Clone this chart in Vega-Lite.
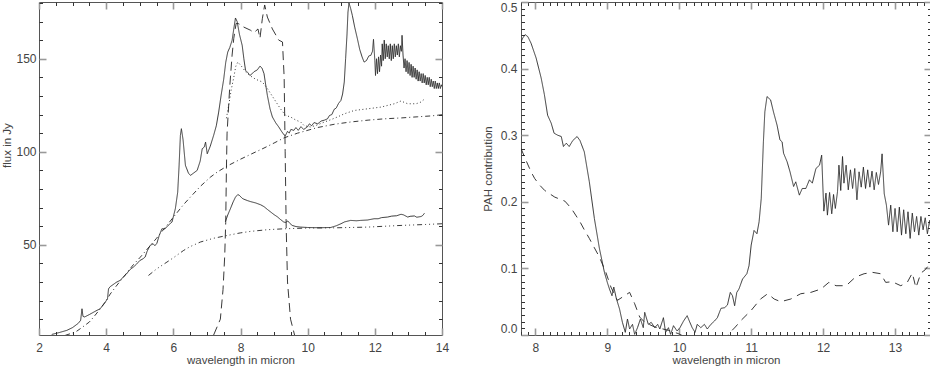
{
  "$schema": "https://vega.github.io/schema/vega-lite/v6.json",
  "padding": {"left": 1, "top": 0, "right": 0, "bottom": 0},
  "config": {
    "view": {"stroke": "#555", "strokeWidth": 1},
    "axis": {
      "labelFont": "Liberation Sans, Arial, sans-serif",
      "labelFontSize": 12,
      "labelColor": "#444",
      "titleFont": "Liberation Sans, Arial, sans-serif",
      "titleFontSize": 11.5,
      "titleFontWeight": "normal",
      "titleColor": "#444",
      "grid": false,
      "domain": false,
      "labelOverlap": false,
      "tickCount": 200
    }
  },
  "resolve": {"scale": {"strokeDash": "independent"}},
  "datasets": {
    "left": [
      {"s":"obs","x":2.38,"y":1.8},{"s":"obs","x":2.6,"y":2.8},{"s":"obs","x":2.83,"y":4.0},{"s":"obs","x":3.0,"y":5.5},{"s":"obs","x":3.17,"y":7.8},{"s":"obs","x":3.24,"y":9.4},{"s":"obs","x":3.28,"y":15.6},{"s":"obs","x":3.31,"y":11.5},{"s":"obs","x":3.36,"y":11.2},{"s":"obs","x":3.5,"y":12.5},{"s":"obs","x":3.7,"y":14.5},{"s":"obs","x":3.82,"y":15.6},{"s":"obs","x":3.95,"y":18.5},{"s":"obs","x":4.04,"y":21},{"s":"obs","x":4.07,"y":26.3},{"s":"obs","x":4.12,"y":27.5},{"s":"obs","x":4.2,"y":28.5},{"s":"obs","x":4.3,"y":29.8},{"s":"obs","x":4.42,"y":30.9},{"s":"obs","x":4.5,"y":32.5},{"s":"obs","x":4.6,"y":34.2},{"s":"obs","x":4.7,"y":36.5},{"s":"obs","x":4.81,"y":38},{"s":"obs","x":4.9,"y":39.5},{"s":"obs","x":5.0,"y":41.5},{"s":"obs","x":5.1,"y":42.5},{"s":"obs","x":5.16,"y":43.4},{"s":"obs","x":5.22,"y":46.5},{"s":"obs","x":5.31,"y":49.7},{"s":"obs","x":5.4,"y":50.5},{"s":"obs","x":5.45,"y":49.5},{"s":"obs","x":5.51,"y":50.8},{"s":"obs","x":5.58,"y":55},{"s":"obs","x":5.66,"y":58.6},{"s":"obs","x":5.75,"y":58.5},{"s":"obs","x":5.85,"y":60.5},{"s":"obs","x":5.96,"y":62.2},{"s":"obs","x":6.06,"y":69.4},{"s":"obs","x":6.13,"y":78.3},{"s":"obs","x":6.17,"y":92},{"s":"obs","x":6.21,"y":108.8},{"s":"obs","x":6.24,"y":112.4},{"s":"obs","x":6.29,"y":106.4},{"s":"obs","x":6.36,"y":92.7},{"s":"obs","x":6.45,"y":88.5},{"s":"obs","x":6.51,"y":87.3},{"s":"obs","x":6.6,"y":88.5},{"s":"obs","x":6.71,"y":90},{"s":"obs","x":6.8,"y":95},{"s":"obs","x":6.86,"y":101.6},{"s":"obs","x":6.92,"y":102.5},{"s":"obs","x":6.96,"y":105.2},{"s":"obs","x":7.01,"y":98.9},{"s":"obs","x":7.1,"y":103},{"s":"obs","x":7.2,"y":108.8},{"s":"obs","x":7.28,"y":114},{"s":"obs","x":7.35,"y":121.3},{"s":"obs","x":7.42,"y":130},{"s":"obs","x":7.5,"y":139},{"s":"obs","x":7.56,"y":148},{"s":"obs","x":7.62,"y":153.6},{"s":"obs","x":7.68,"y":156},{"s":"obs","x":7.75,"y":159.9},{"s":"obs","x":7.8,"y":166},{"s":"obs","x":7.85,"y":171.9},{"s":"obs","x":7.9,"y":170},{"s":"obs","x":7.97,"y":163},{"s":"obs","x":8.05,"y":157.2},{"s":"obs","x":8.1,"y":150},{"s":"obs","x":8.15,"y":143.8},{"s":"obs","x":8.22,"y":142.5},{"s":"obs","x":8.28,"y":141},{"s":"obs","x":8.35,"y":142},{"s":"obs","x":8.4,"y":143},{"s":"obs","x":8.5,"y":144},{"s":"obs","x":8.58,"y":146},{"s":"obs","x":8.64,"y":145},{"s":"obs","x":8.7,"y":142},{"s":"obs","x":8.75,"y":136},{"s":"obs","x":8.8,"y":130.3},{"s":"obs","x":8.88,"y":123},{"s":"obs","x":8.95,"y":118.7},{"s":"obs","x":9.05,"y":115.5},{"s":"obs","x":9.14,"y":113.3},{"s":"obs","x":9.22,"y":111},{"s":"obs","x":9.3,"y":109},{"s":"obs","x":9.34,"y":108.8},{"s":"obs","x":9.4,"y":111},{"s":"obs","x":9.45,"y":110},{"s":"obs","x":9.5,"y":112},{"s":"obs","x":9.59,"y":111.5},{"s":"obs","x":9.65,"y":113},{"s":"obs","x":9.72,"y":111.5},{"s":"obs","x":9.8,"y":113.5},{"s":"obs","x":9.88,"y":112},{"s":"obs","x":9.99,"y":113.3},{"s":"obs","x":10.05,"y":115},{"s":"obs","x":10.12,"y":114},{"s":"obs","x":10.19,"y":115.7},{"s":"obs","x":10.3,"y":115},{"s":"obs","x":10.4,"y":116.5},{"s":"obs","x":10.5,"y":117},{"s":"obs","x":10.59,"y":117.7},{"s":"obs","x":10.65,"y":119.5},{"s":"obs","x":10.72,"y":120},{"s":"obs","x":10.79,"y":122.8},{"s":"obs","x":10.85,"y":123.5},{"s":"obs","x":10.92,"y":126},{"s":"obs","x":10.99,"y":127.6},{"s":"obs","x":11.04,"y":131},{"s":"obs","x":11.09,"y":137.5},{"s":"obs","x":11.13,"y":150},{"s":"obs","x":11.17,"y":162.6},{"s":"obs","x":11.2,"y":175},{"s":"obs","x":11.23,"y":180},{"s":"obs","x":11.28,"y":177},{"s":"obs","x":11.33,"y":173.3},{"s":"obs","x":11.4,"y":167},{"s":"obs","x":11.48,"y":160.8},{"s":"obs","x":11.55,"y":155},{"s":"obs","x":11.62,"y":151},{"s":"obs","x":11.68,"y":148.2},{"s":"obs","x":11.75,"y":149},{"s":"obs","x":11.82,"y":151.5},{"s":"obs","x":11.88,"y":151.8},{"s":"obs","x":11.93,"y":154},{"s":"obs","x":11.96,"y":160.4},
      {"s":"obs","x":12.0,"y":149},{"s":"obs","x":12.02,"y":141},{"s":"obs","x":12.05,"y":150},{"s":"obs","x":12.08,"y":142},{"s":"obs","x":12.11,"y":151},{"s":"obs","x":12.14,"y":143},{"s":"obs","x":12.17,"y":152},{"s":"obs","x":12.2,"y":146},{"s":"obs","x":12.22,"y":158},{"s":"obs","x":12.25,"y":149},{"s":"obs","x":12.28,"y":160},{"s":"obs","x":12.31,"y":150},{"s":"obs","x":12.34,"y":158},{"s":"obs","x":12.37,"y":151},{"s":"obs","x":12.4,"y":157},{"s":"obs","x":12.43,"y":150},{"s":"obs","x":12.46,"y":158},{"s":"obs","x":12.49,"y":149},{"s":"obs","x":12.52,"y":157},{"s":"obs","x":12.55,"y":150},{"s":"obs","x":12.58,"y":158},{"s":"obs","x":12.61,"y":151},{"s":"obs","x":12.64,"y":157},{"s":"obs","x":12.67,"y":152},{"s":"obs","x":12.7,"y":158},{"s":"obs","x":12.73,"y":151},{"s":"obs","x":12.76,"y":157},{"s":"obs","x":12.79,"y":154},{"s":"obs","x":12.81,"y":162.6},{"s":"obs","x":12.84,"y":152},{"s":"obs","x":12.87,"y":145},{"s":"obs","x":12.9,"y":150},{"s":"obs","x":12.93,"y":143},{"s":"obs","x":12.96,"y":149},{"s":"obs","x":12.99,"y":142},{"s":"obs","x":13.02,"y":148},{"s":"obs","x":13.05,"y":141},{"s":"obs","x":13.08,"y":147},{"s":"obs","x":13.11,"y":140},{"s":"obs","x":13.14,"y":146},{"s":"obs","x":13.17,"y":140},{"s":"obs","x":13.2,"y":145},{"s":"obs","x":13.23,"y":139},{"s":"obs","x":13.26,"y":144},{"s":"obs","x":13.29,"y":138},{"s":"obs","x":13.32,"y":143},{"s":"obs","x":13.35,"y":138},{"s":"obs","x":13.38,"y":142},{"s":"obs","x":13.41,"y":137},{"s":"obs","x":13.44,"y":142},{"s":"obs","x":13.47,"y":137},{"s":"obs","x":13.5,"y":141},{"s":"obs","x":13.53,"y":136},{"s":"obs","x":13.56,"y":140},{"s":"obs","x":13.59,"y":136},{"s":"obs","x":13.62,"y":140},{"s":"obs","x":13.65,"y":135},{"s":"obs","x":13.68,"y":139},{"s":"obs","x":13.71,"y":135},{"s":"obs","x":13.74,"y":138},{"s":"obs","x":13.77,"y":134},{"s":"obs","x":13.8,"y":138},{"s":"obs","x":13.83,"y":134},{"s":"obs","x":13.86,"y":137},{"s":"obs","x":13.89,"y":134},{"s":"obs","x":13.92,"y":137},{"s":"obs","x":13.95,"y":134},{"s":"obs","x":13.98,"y":136},{"s":"obs","x":14.0,"y":135},
      {"s":"low","x":7.55,"y":62.4},{"s":"low","x":7.62,"y":66},{"s":"low","x":7.7,"y":69.4},{"s":"low","x":7.78,"y":73},{"s":"low","x":7.85,"y":75.6},{"s":"low","x":7.92,"y":77},{"s":"low","x":7.97,"y":76.5},{"s":"low","x":8.05,"y":75},{"s":"low","x":8.1,"y":74.5},{"s":"low","x":8.2,"y":73.8},{"s":"low","x":8.3,"y":73.2},{"s":"low","x":8.45,"y":72.5},{"s":"low","x":8.6,"y":71.5},{"s":"low","x":8.7,"y":70.5},{"s":"low","x":8.8,"y":69},{"s":"low","x":8.9,"y":67.6},{"s":"low","x":9.0,"y":66.2},{"s":"low","x":9.1,"y":65},{"s":"low","x":9.19,"y":63.6},{"s":"low","x":9.29,"y":62.2},{"s":"low","x":9.34,"y":62},{"s":"low","x":9.41,"y":62.8},{"s":"low","x":9.47,"y":61.5},{"s":"low","x":9.54,"y":60.4},{"s":"low","x":9.65,"y":59.8},{"s":"low","x":9.79,"y":59.5},{"s":"low","x":9.99,"y":59.3},{"s":"low","x":10.19,"y":59.2},{"s":"low","x":10.45,"y":59.2},{"s":"low","x":10.69,"y":59.3},{"s":"low","x":10.85,"y":60.2},{"s":"low","x":10.99,"y":61.3},{"s":"low","x":11.1,"y":62.3},{"s":"low","x":11.28,"y":63.1},{"s":"low","x":11.45,"y":62.9},{"s":"low","x":11.58,"y":63.1},{"s":"low","x":11.78,"y":63.3},{"s":"low","x":11.98,"y":64},{"s":"low","x":12.1,"y":64},{"s":"low","x":12.2,"y":64.6},{"s":"low","x":12.38,"y":64.9},{"s":"low","x":12.5,"y":65.4},{"s":"low","x":12.65,"y":65.6},{"s":"low","x":12.78,"y":66.4},{"s":"low","x":12.85,"y":66.1},{"s":"low","x":12.98,"y":64.9},{"s":"low","x":13.05,"y":65.3},{"s":"low","x":13.18,"y":65.5},{"s":"low","x":13.25,"y":64.8},{"s":"low","x":13.38,"y":65.2},{"s":"low","x":13.43,"y":65.8},{"s":"low","x":13.48,"y":67},
      {"s":"dot","x":7.58,"y":118},{"s":"dot","x":7.65,"y":125},{"s":"dot","x":7.72,"y":133},{"s":"dot","x":7.8,"y":140},{"s":"dot","x":7.86,"y":146},{"s":"dot","x":7.92,"y":148.2},{"s":"dot","x":7.98,"y":147},{"s":"dot","x":8.05,"y":145.5},{"s":"dot","x":8.15,"y":143},{"s":"dot","x":8.3,"y":140.7},{"s":"dot","x":8.45,"y":139},{"s":"dot","x":8.65,"y":137.5},{"s":"dot","x":8.78,"y":134.5},{"s":"dot","x":8.9,"y":131.2},{"s":"dot","x":9.05,"y":127},{"s":"dot","x":9.19,"y":123.1},{"s":"dot","x":9.3,"y":120.5},{"s":"dot","x":9.35,"y":119.5},{"s":"dot","x":9.49,"y":118.7},{"s":"dot","x":9.65,"y":117},{"s":"dot","x":9.79,"y":116},{"s":"dot","x":9.9,"y":114},{"s":"dot","x":10.09,"y":113.3},{"s":"dot","x":10.3,"y":114.5},{"s":"dot","x":10.5,"y":116},{"s":"dot","x":10.7,"y":117.3},{"s":"dot","x":10.9,"y":118.8},{"s":"dot","x":11.09,"y":120.4},{"s":"dot","x":11.39,"y":122.2},{"s":"dot","x":11.79,"y":123.1},{"s":"dot","x":12.18,"y":124},{"s":"dot","x":12.58,"y":125.8},{"s":"dot","x":12.78,"y":127.3},{"s":"dot","x":12.88,"y":126.5},{"s":"dot","x":12.98,"y":125.8},{"s":"dot","x":13.23,"y":125.8},{"s":"dot","x":13.37,"y":126.7},{"s":"dot","x":13.49,"y":128.5},
      {"s":"filt","x":7.2,"y":1.5},{"s":"filt","x":7.4,"y":10},{"s":"filt","x":7.48,"y":26},{"s":"filt","x":7.53,"y":44},{"s":"filt","x":7.56,"y":62},{"s":"filt","x":7.58,"y":90},{"s":"filt","x":7.6,"y":110},{"s":"filt","x":7.68,"y":135},{"s":"filt","x":7.75,"y":152},{"s":"filt","x":7.8,"y":161},{"s":"filt","x":7.87,"y":169},{"s":"filt","x":7.95,"y":168.8},{"s":"filt","x":8.1,"y":167},{"s":"filt","x":8.3,"y":165.3},{"s":"filt","x":8.4,"y":164},{"s":"filt","x":8.52,"y":166},{"s":"filt","x":8.58,"y":161},{"s":"filt","x":8.65,"y":171.5},{"s":"filt","x":8.72,"y":178.9},{"s":"filt","x":8.8,"y":172.4},{"s":"filt","x":8.95,"y":166},{"s":"filt","x":9.14,"y":160},{"s":"filt","x":9.25,"y":159},{"s":"filt","x":9.3,"y":140},{"s":"filt","x":9.33,"y":100},{"s":"filt","x":9.36,"y":60},{"s":"filt","x":9.4,"y":30},{"s":"filt","x":9.49,"y":10},{"s":"filt","x":9.61,"y":1.5},
      {"s":"c1","x":2.78,"y":1.3},{"s":"c1","x":3.0,"y":2.6},{"s":"c1","x":3.12,"y":3.5},{"s":"c1","x":3.3,"y":5.8},{"s":"c1","x":3.5,"y":8.5},{"s":"c1","x":3.62,"y":11},{"s":"c1","x":3.8,"y":15},{"s":"c1","x":4.02,"y":20.5},{"s":"c1","x":4.12,"y":23.5},{"s":"c1","x":4.3,"y":27.8},{"s":"c1","x":4.5,"y":32.3},{"s":"c1","x":4.62,"y":35},{"s":"c1","x":4.81,"y":39.3},{"s":"c1","x":5.0,"y":43},{"s":"c1","x":5.12,"y":45.5},{"s":"c1","x":5.31,"y":49.5},{"s":"c1","x":5.5,"y":53.5},{"s":"c1","x":5.61,"y":56},{"s":"c1","x":5.81,"y":60.5},{"s":"c1","x":6.0,"y":64.8},{"s":"c1","x":6.3,"y":71.5},{"s":"c1","x":6.5,"y":75.5},{"s":"c1","x":6.81,"y":81.5},{"s":"c1","x":7.1,"y":86.3},{"s":"c1","x":7.3,"y":89},{"s":"c1","x":7.6,"y":92.3},{"s":"c1","x":8.0,"y":96},{"s":"c1","x":8.3,"y":98.6},{"s":"c1","x":8.7,"y":102},{"s":"c1","x":9.0,"y":104.7},{"s":"c1","x":9.3,"y":107.5},{"s":"c1","x":9.7,"y":110},{"s":"c1","x":10.29,"y":113},{"s":"c1","x":10.8,"y":114.8},{"s":"c1","x":11.28,"y":116},{"s":"c1","x":11.8,"y":117},{"s":"c1","x":12.28,"y":117.7},{"s":"c1","x":12.8,"y":118.2},{"s":"c1","x":13.28,"y":118.8},{"s":"c1","x":13.7,"y":119.3},{"s":"c1","x":14.0,"y":119.9},
      {"s":"c2","x":5.26,"y":33.5},{"s":"c2","x":5.5,"y":37},{"s":"c2","x":5.81,"y":40.7},{"s":"c2","x":6.0,"y":43},{"s":"c2","x":6.31,"y":47},{"s":"c2","x":6.5,"y":49},{"s":"c2","x":6.81,"y":51.5},{"s":"c2","x":7.2,"y":53.5},{"s":"c2","x":7.6,"y":55},{"s":"c2","x":8.0,"y":56.4},{"s":"c2","x":8.3,"y":57.2},{"s":"c2","x":8.8,"y":58.1},{"s":"c2","x":9.3,"y":58.6},{"s":"c2","x":10.0,"y":59},{"s":"c2","x":10.79,"y":59.1},{"s":"c2","x":11.78,"y":59.5},{"s":"c2","x":12.78,"y":60.4},{"s":"c2","x":13.5,"y":60.9},{"s":"c2","x":14.0,"y":61.3}
    ],
    "right": [
      {"s":"pah","x":7.8,"y":0.44},{"s":"pah","x":7.825,"y":0.446},{"s":"pah","x":7.857,"y":0.451},{"s":"pah","x":7.895,"y":0.448},{"s":"pah","x":7.94,"y":0.438},{"s":"pah","x":8.01,"y":0.416},{"s":"pah","x":8.08,"y":0.386},{"s":"pah","x":8.125,"y":0.361},{"s":"pah","x":8.17,"y":0.33},{"s":"pah","x":8.22,"y":0.318},{"s":"pah","x":8.26,"y":0.303},{"s":"pah","x":8.31,"y":0.3},{"s":"pah","x":8.36,"y":0.298},{"s":"pah","x":8.39,"y":0.283},{"s":"pah","x":8.43,"y":0.288},{"s":"pah","x":8.47,"y":0.283},{"s":"pah","x":8.52,"y":0.292},{"s":"pah","x":8.58,"y":0.298},{"s":"pah","x":8.62,"y":0.292},{"s":"pah","x":8.68,"y":0.275},{"s":"pah","x":8.75,"y":0.23},{"s":"pah","x":8.82,"y":0.175},{"s":"pah","x":8.89,"y":0.13},{"s":"pah","x":8.96,"y":0.094},{"s":"pah","x":9.0,"y":0.079},{"s":"pah","x":9.03,"y":0.069},{"s":"pah","x":9.065,"y":0.059},{"s":"pah","x":9.09,"y":0.072},{"s":"pah","x":9.125,"y":0.055},{"s":"pah","x":9.17,"y":0.039},{"s":"pah","x":9.21,"y":0.019},{"s":"pah","x":9.25,"y":0.004},{"s":"pah","x":9.28,"y":0.024},{"s":"pah","x":9.31,"y":0.009},{"s":"pah","x":9.35,"y":0.016},{"s":"pah","x":9.38,"y":0.001},{"s":"pah","x":9.42,"y":0.011},{"s":"pah","x":9.46,"y":0.024},{"s":"pah","x":9.5,"y":0.011},{"s":"pah","x":9.52,"y":0.034},{"s":"pah","x":9.57,"y":0.016},{"s":"pah","x":9.61,"y":0.019},{"s":"pah","x":9.66,"y":0.011},{"s":"pah","x":9.7,"y":0.016},{"s":"pah","x":9.73,"y":0.009},{"s":"pah","x":9.78,"y":0.026},{"s":"pah","x":9.81,"y":0.004},{"s":"pah","x":9.85,"y":0.011},{"s":"pah","x":9.88,"y":0.001},{"s":"pah","x":9.92,"y":0.014},{"s":"pah","x":9.97,"y":0.006},{"s":"pah","x":10.01,"y":0.011},{"s":"pah","x":10.06,"y":0.021},{"s":"pah","x":10.11,"y":0.029},{"s":"pah","x":10.14,"y":0.021},{"s":"pah","x":10.18,"y":0.011},{"s":"pah","x":10.22,"y":0.004},{"s":"pah","x":10.25,"y":0.016},{"s":"pah","x":10.3,"y":0.011},{"s":"pah","x":10.35,"y":0.016},{"s":"pah","x":10.39,"y":0.009},{"s":"pah","x":10.44,"y":0.016},{"s":"pah","x":10.49,"y":0.021},{"s":"pah","x":10.53,"y":0.026},{"s":"pah","x":10.58,"y":0.04},{"s":"pah","x":10.63,"y":0.041},{"s":"pah","x":10.67,"y":0.045},{"s":"pah","x":10.71,"y":0.064},{"s":"pah","x":10.74,"y":0.059},{"s":"pah","x":10.77,"y":0.044},{"s":"pah","x":10.8,"y":0.064},{"s":"pah","x":10.83,"y":0.069},{"s":"pah","x":10.88,"y":0.084},{"s":"pah","x":10.94,"y":0.092},{"s":"pah","x":10.97,"y":0.104},{"s":"pah","x":11.0,"y":0.135},{"s":"pah","x":11.04,"y":0.157},{"s":"pah","x":11.08,"y":0.152},{"s":"pah","x":11.11,"y":0.17},{"s":"pah","x":11.14,"y":0.205},{"s":"pah","x":11.17,"y":0.29},{"s":"pah","x":11.19,"y":0.335},{"s":"pah","x":11.22,"y":0.358},{"s":"pah","x":11.27,"y":0.353},{"s":"pah","x":11.31,"y":0.335},{"s":"pah","x":11.36,"y":0.315},{"s":"pah","x":11.4,"y":0.293},{"s":"pah","x":11.43,"y":0.29},{"s":"pah","x":11.45,"y":0.273},{"s":"pah","x":11.5,"y":0.26},{"s":"pah","x":11.54,"y":0.245},{"s":"pah","x":11.59,"y":0.223},{"s":"pah","x":11.62,"y":0.23},{"s":"pah","x":11.67,"y":0.21},{"s":"pah","x":11.71,"y":0.22},{"s":"pah","x":11.76,"y":0.22},{"s":"pah","x":11.81,"y":0.233},{"s":"pah","x":11.85,"y":0.228},{"s":"pah","x":11.9,"y":0.25},{"s":"pah","x":11.95,"y":0.255},{"s":"pah","x":11.98,"y":0.27},
      {"s":"pah","x":12.01,"y":0.186},{"s":"pah","x":12.04,"y":0.213},{"s":"pah","x":12.06,"y":0.18},{"s":"pah","x":12.09,"y":0.214},{"s":"pah","x":12.12,"y":0.182},{"s":"pah","x":12.145,"y":0.211},{"s":"pah","x":12.17,"y":0.19},{"s":"pah","x":12.2,"y":0.215},{"s":"pah","x":12.22,"y":0.255},{"s":"pah","x":12.245,"y":0.217},{"s":"pah","x":12.27,"y":0.268},{"s":"pah","x":12.29,"y":0.228},{"s":"pah","x":12.32,"y":0.255},{"s":"pah","x":12.35,"y":0.218},{"s":"pah","x":12.38,"y":0.248},{"s":"pah","x":12.41,"y":0.22},{"s":"pah","x":12.44,"y":0.25},{"s":"pah","x":12.47,"y":0.203},{"s":"pah","x":12.5,"y":0.245},{"s":"pah","x":12.53,"y":0.222},{"s":"pah","x":12.56,"y":0.252},{"s":"pah","x":12.59,"y":0.22},{"s":"pah","x":12.62,"y":0.248},{"s":"pah","x":12.65,"y":0.222},{"s":"pah","x":12.68,"y":0.246},{"s":"pah","x":12.71,"y":0.218},{"s":"pah","x":12.74,"y":0.244},{"s":"pah","x":12.77,"y":0.226},{"s":"pah","x":12.8,"y":0.245},{"s":"pah","x":12.82,"y":0.272},{"s":"pah","x":12.85,"y":0.212},{"s":"pah","x":12.88,"y":0.195},{"s":"pah","x":12.91,"y":0.165},{"s":"pah","x":12.94,"y":0.195},{"s":"pah","x":12.97,"y":0.155},{"s":"pah","x":13.0,"y":0.19},{"s":"pah","x":13.03,"y":0.155},{"s":"pah","x":13.06,"y":0.192},{"s":"pah","x":13.09,"y":0.15},{"s":"pah","x":13.12,"y":0.188},{"s":"pah","x":13.15,"y":0.152},{"s":"pah","x":13.18,"y":0.185},{"s":"pah","x":13.21,"y":0.145},{"s":"pah","x":13.24,"y":0.183},{"s":"pah","x":13.27,"y":0.155},{"s":"pah","x":13.3,"y":0.178},{"s":"pah","x":13.33,"y":0.15},{"s":"pah","x":13.36,"y":0.178},{"s":"pah","x":13.39,"y":0.158},{"s":"pah","x":13.42,"y":0.176},{"s":"pah","x":13.45,"y":0.152},{"s":"pah","x":13.48,"y":0.172},{"s":"pah","x":13.5,"y":0.158},
      {"s":"dash","x":7.8,"y":0.28},{"s":"dash","x":7.87,"y":0.262},{"s":"dash","x":7.94,"y":0.245},{"s":"dash","x":7.99,"y":0.235},{"s":"dash","x":8.06,"y":0.225},{"s":"dash","x":8.13,"y":0.217},{"s":"dash","x":8.2,"y":0.212},{"s":"dash","x":8.27,"y":0.207},{"s":"dash","x":8.34,"y":0.204},{"s":"dash","x":8.41,"y":0.201},{"s":"dash","x":8.5,"y":0.19},{"s":"dash","x":8.56,"y":0.18},{"s":"dash","x":8.62,"y":0.17},{"s":"dash","x":8.68,"y":0.158},{"s":"dash","x":8.75,"y":0.145},{"s":"dash","x":8.82,"y":0.131},{"s":"dash","x":8.89,"y":0.117},{"s":"dash","x":8.98,"y":0.094},{"s":"dash","x":9.05,"y":0.072},{"s":"dash","x":9.14,"y":0.052},{"s":"dash","x":9.24,"y":0.059},{"s":"dash","x":9.31,"y":0.064},{"s":"dash","x":9.38,"y":0.047},{"s":"dash","x":9.45,"y":0.027},{"s":"dash","x":9.52,"y":0.019},{"s":"dash","x":9.66,"y":0.012},{"s":"dash","x":9.85,"y":0.007},{"s":"dash","x":9.99,"y":0.002},{"s":"dash","x":10.08,"y":-0.003},{"s":"dash","x":10.3,"y":-0.02},{"s":"dash","x":10.55,"y":-0.02},{"s":"dash","x":10.69,"y":0.002},{"s":"dash","x":10.78,"y":0.012},{"s":"dash","x":10.86,"y":0.022},{"s":"dash","x":11.0,"y":0.037},{"s":"dash","x":11.13,"y":0.054},{"s":"dash","x":11.23,"y":0.062},{"s":"dash","x":11.32,"y":0.054},{"s":"dash","x":11.41,"y":0.05},{"s":"dash","x":11.55,"y":0.054},{"s":"dash","x":11.69,"y":0.062},{"s":"dash","x":11.83,"y":0.064},{"s":"dash","x":11.97,"y":0.069},{"s":"dash","x":12.08,"y":0.079},{"s":"dash","x":12.18,"y":0.074},{"s":"dash","x":12.32,"y":0.074},{"s":"dash","x":12.45,"y":0.087},{"s":"dash","x":12.57,"y":0.092},{"s":"dash","x":12.69,"y":0.094},{"s":"dash","x":12.8,"y":0.092},{"s":"dash","x":12.87,"y":0.079},{"s":"dash","x":12.96,"y":0.08},{"s":"dash","x":13.08,"y":0.074},{"s":"dash","x":13.17,"y":0.079},{"s":"dash","x":13.24,"y":0.093},{"s":"dash","x":13.29,"y":0.071},{"s":"dash","x":13.36,"y":0.093},{"s":"dash","x":13.42,"y":0.098},{"s":"dash","x":13.47,"y":0.105},{"s":"dash","x":13.5,"y":0.11}
    ]
  },
  "spacing": 31,
  "hconcat": [
    {
      "width": 403,
      "height": 333,
      "data": {"name": "left"},
      "resolve": {"axis": {"x": "independent", "y": "independent"}},
      "layer": [
        {
          "mark": {"type": "line", "clip": true, "strokeWidth": 0.9, "color": "#222"},
          "encoding": {
            "x": {"field": "x", "type": "quantitative",
              "scale": {"domain": [2, 14], "nice": false, "zero": false},
              "axis": {"orient": "bottom", "title": "wavelength in micron", "values": [2,4,6,8,10,12,14], "format": "d",
                "tickSize": -7, "tickColor": "#999", "tickWidth": 1.6, "labelPadding": 14, "titlePadding": 1, "labelFlush": false}},
            "y": {"field": "y", "type": "quantitative",
              "scale": {"domain": [1.5, 180.5], "nice": false, "zero": false},
              "axis": {"orient": "left", "title": "flux in Jy", "titleY": 143, "values": [50,100,150], "format": "d",
                "tickSize": -7, "tickColor": "#999", "tickWidth": 1.6, "labelPadding": 10, "titlePadding": 3}},
            "strokeDash": {"field": "s", "type": "nominal", "legend": null,
              "scale": {"domain": ["obs","low","dot","filt","c1","c2"],
                "range": [[1,0],[1,0],[1,2.5],[9,5],[5,3,1,3],[5,3,1,3,1,3,1,3]]}}
          }
        },
        {
          "mark": {"type": "line", "opacity": 0},
          "encoding": {
            "x": {"field": "x", "type": "quantitative",
              "scale": {"domain": [2, 14], "nice": false, "zero": false},
              "axis": {"orient": "top", "title": null, "labels": false, "values": [2,4,6,8,10,12,14],
                "tickSize": -7, "tickColor": "#999", "tickWidth": 1.6}},
            "y": {"field": "y", "type": "quantitative",
              "scale": {"domain": [1.5, 180.5], "nice": false, "zero": false},
              "axis": {"orient": "right", "title": null, "labels": false, "values": [50,100,150],
                "tickSize": -7, "tickColor": "#999", "tickWidth": 1.6}},
            "detail": {"field": "s"}
          }
        },
        {
          "mark": {"type": "line", "opacity": 0},
          "encoding": {
            "x": {"field": "x", "type": "quantitative",
              "scale": {"domain": [2, 14], "nice": false, "zero": false},
              "axis": {"orient": "bottom", "title": null, "labels": false,
                "values": [2.5,3,3.5,4.5,5,5.5,6.5,7,7.5,8.5,9,9.5,10.5,11,11.5,12.5,13,13.5],
                "tickSize": -3.5, "tickColor": "#333", "tickWidth": 1}},
            "y": {"field": "y", "type": "quantitative",
              "scale": {"domain": [1.5, 180.5], "nice": false, "zero": false},
              "axis": {"orient": "left", "title": null, "labels": false,
                "values": [10,20,30,40,60,70,80,90,110,120,130,140,160,170,180],
                "tickSize": -3.5, "tickColor": "#333", "tickWidth": 1}},
            "detail": {"field": "s"}
          }
        },
        {
          "mark": {"type": "line", "opacity": 0},
          "encoding": {
            "x": {"field": "x", "type": "quantitative",
              "scale": {"domain": [2, 14], "nice": false, "zero": false},
              "axis": {"orient": "top", "title": null, "labels": false,
                "values": [2.5,3,3.5,4.5,5,5.5,6.5,7,7.5,8.5,9,9.5,10.5,11,11.5,12.5,13,13.5],
                "tickSize": -3.5, "tickColor": "#333", "tickWidth": 1}},
            "y": {"field": "y", "type": "quantitative",
              "scale": {"domain": [1.5, 180.5], "nice": false, "zero": false},
              "axis": {"orient": "right", "title": null, "labels": false,
                "values": [10,20,30,40,60,70,80,90,110,120,130,140,160,170,180],
                "tickSize": -3.5, "tickColor": "#333", "tickWidth": 1}},
            "detail": {"field": "s"}
          }
        }
      ]
    },
    {
      "width": 410,
      "height": 333,
      "data": {"name": "right"},
      "resolve": {"axis": {"x": "independent", "y": "independent"}},
      "layer": [
        {
          "mark": {"type": "line", "clip": true, "strokeWidth": 0.9, "color": "#222"},
          "encoding": {
            "x": {"field": "x", "type": "quantitative",
              "scale": {"domain": [7.8, 13.5], "nice": false, "zero": false},
              "axis": {"orient": "bottom", "title": "wavelength in micron", "values": [8,9,10,11,12,13], "format": "d",
                "tickSize": -7, "tickColor": "#999", "tickWidth": 1.6, "labelPadding": 14, "titlePadding": 1, "labelFlush": false}},
            "y": {"field": "y", "type": "quantitative",
              "scale": {"domain": [0, 0.5], "nice": false, "zero": false},
              "axis": {"orient": "left", "title": "PAH contribution", "values": [0,0.1,0.2,0.3,0.4,0.5], "format": ".1f",
                "labelFlush": true, "tickSize": -7, "tickColor": "#999", "tickWidth": 1.6, "labelPadding": 11, "titlePadding": 7}},
            "strokeDash": {"field": "s", "type": "nominal", "legend": null,
              "scale": {"domain": ["pah","dash"], "range": [[1,0],[8,6]]}}
          }
        },
        {
          "mark": {"type": "line", "opacity": 0},
          "encoding": {
            "x": {"field": "x", "type": "quantitative",
              "scale": {"domain": [7.8, 13.5], "nice": false, "zero": false},
              "axis": {"orient": "top", "title": null, "labels": false, "values": [8,9,10,11,12,13],
                "tickSize": -7, "tickColor": "#999", "tickWidth": 1.6}},
            "y": {"field": "y", "type": "quantitative",
              "scale": {"domain": [0, 0.5], "nice": false, "zero": false},
              "axis": {"orient": "right", "title": null, "labels": false, "values": [0,0.1,0.2,0.3,0.4,0.5],
                "tickSize": -7, "tickColor": "#999", "tickWidth": 1.6}},
            "detail": {"field": "s"}
          }
        },
        {
          "mark": {"type": "line", "opacity": 0},
          "encoding": {
            "x": {"field": "x", "type": "quantitative",
              "scale": {"domain": [7.8, 13.5], "nice": false, "zero": false},
              "axis": {"orient": "bottom", "title": null, "labels": false,
                "values": [7.8,7.9,8.1,8.2,8.3,8.4,8.5,8.6,8.7,8.8,8.9,9.1,9.2,9.3,9.4,9.5,9.6,9.7,9.8,9.9,10.1,10.2,10.3,10.4,10.5,10.6,10.7,10.8,10.9,11.1,11.2,11.3,11.4,11.5,11.6,11.7,11.8,11.9,12.1,12.2,12.3,12.4,12.5,12.6,12.7,12.8,12.9,13.1,13.2,13.3,13.4,13.5],
                "tickSize": -3.5, "tickColor": "#333", "tickWidth": 1}},
            "y": {"field": "y", "type": "quantitative",
              "scale": {"domain": [0, 0.5], "nice": false, "zero": false},
              "axis": {"orient": "left", "title": null, "labels": false,
                "values": [0.01,0.02,0.03,0.04,0.05,0.06,0.07,0.08,0.09,0.11,0.12,0.13,0.14,0.15,0.16,0.17,0.18,0.19,0.21,0.22,0.23,0.24,0.25,0.26,0.27,0.28,0.29,0.31,0.32,0.33,0.34,0.35,0.36,0.37,0.38,0.39,0.41,0.42,0.43,0.44,0.45,0.46,0.47,0.48,0.49],
                "tickSize": -3.5, "tickColor": "#333", "tickWidth": 1}},
            "detail": {"field": "s"}
          }
        },
        {
          "mark": {"type": "line", "opacity": 0},
          "encoding": {
            "x": {"field": "x", "type": "quantitative",
              "scale": {"domain": [7.8, 13.5], "nice": false, "zero": false},
              "axis": {"orient": "top", "title": null, "labels": false,
                "values": [7.8,7.9,8.1,8.2,8.3,8.4,8.5,8.6,8.7,8.8,8.9,9.1,9.2,9.3,9.4,9.5,9.6,9.7,9.8,9.9,10.1,10.2,10.3,10.4,10.5,10.6,10.7,10.8,10.9,11.1,11.2,11.3,11.4,11.5,11.6,11.7,11.8,11.9,12.1,12.2,12.3,12.4,12.5,12.6,12.7,12.8,12.9,13.1,13.2,13.3,13.4,13.5],
                "tickSize": -3.5, "tickColor": "#333", "tickWidth": 1}},
            "y": {"field": "y", "type": "quantitative",
              "scale": {"domain": [0, 0.5], "nice": false, "zero": false},
              "axis": {"orient": "right", "title": null, "labels": false,
                "values": [0.01,0.02,0.03,0.04,0.05,0.06,0.07,0.08,0.09,0.11,0.12,0.13,0.14,0.15,0.16,0.17,0.18,0.19,0.21,0.22,0.23,0.24,0.25,0.26,0.27,0.28,0.29,0.31,0.32,0.33,0.34,0.35,0.36,0.37,0.38,0.39,0.41,0.42,0.43,0.44,0.45,0.46,0.47,0.48,0.49],
                "tickSize": -3.5, "tickColor": "#333", "tickWidth": 1}},
            "detail": {"field": "s"}
          }
        }
      ]
    }
  ]
}
